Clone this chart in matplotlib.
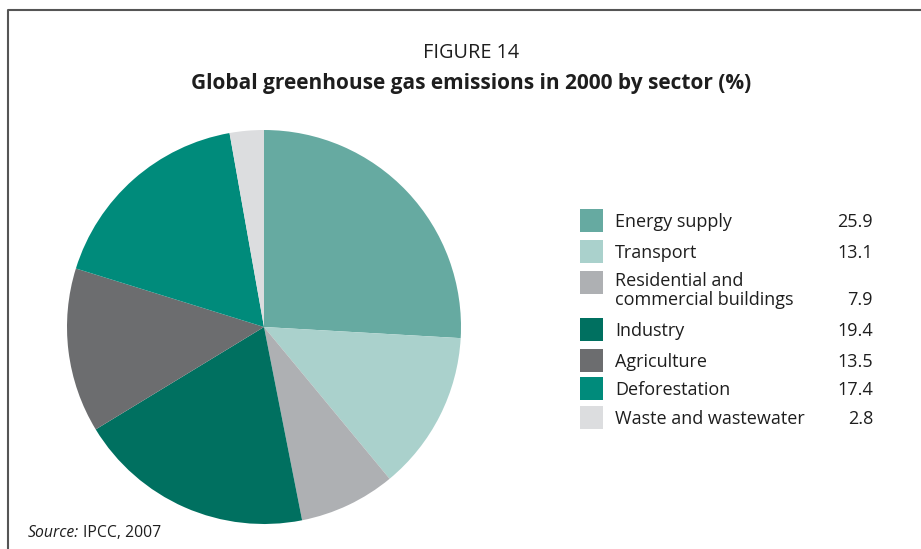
import matplotlib
matplotlib.use('Agg')
import matplotlib.pyplot as plt
from matplotlib.patches import Rectangle

plt.rcParams['font.family'] = ['Open Sans', 'DejaVu Sans']

# 数据
sectors = ['Energy supply', 'Transport', 'Residential and\ncommercial buildings',
           'Industry', 'Agriculture', 'Deforestation', 'Waste and wastewater']
shares = [25.9, 13.1, 7.9, 19.4, 13.5, 17.4, 2.8]
colors = ['#66aaa1', '#aad1cc', '#aeb0b3', '#007060', '#6c6d6f', '#008b7b', '#dcdddf']

W, H = 921, 549
fig = plt.figure(figsize=(W / 100, H / 100), dpi=100)
ax = fig.add_axes([0, 0, 1, 1])

# 饼图，从12点钟方向顺时针
ax.pie(shares, colors=colors, startangle=90, counterclock=False,
       center=(264, H - 327), radius=197, wedgeprops=dict(linewidth=0))
ax.set_xlim(0, W)
ax.set_ylim(0, H)
ax.set_aspect('equal')
ax.axis('off')

# 外框
ax.plot([8, 8, W + 5], [-5, H - 10, H - 10], color='#555555', lw=1.5,
        solid_capstyle='projecting', clip_on=False)

ax.text(471, H - 53, 'FIGURE 14', ha='center', va='center', fontsize=14.3, color='#1e1e1e')
ax.text(471, H - 84, 'Global greenhouse gas emissions in 2000 by sector (%)',
        ha='center', va='center', fontsize=15, fontweight='bold', color='#1e1e1e')

# 图例
fs = 13
box_tops = [209, 240, 271, 318, 349, 377, 406]
for name, val, c, top in zip(sectors, shares, colors, box_tops):
    ax.add_patch(Rectangle((580, H - top - 23), 23, 23, color=c, lw=0))
    if '\n' in name:
        first, second = name.split('\n')
        ax.text(615, H - (top + 10), first, ha='left', va='center', fontsize=fs, color='#1e1e1e')
        ax.text(615, H - (top + 29), second, ha='left', va='center', fontsize=fs, color='#1e1e1e')
        ax.text(873, H - (top + 29), f'{val:.1f}', ha='right', va='center', fontsize=fs, color='#1e1e1e')
    else:
        ax.text(615, H - (top + 13), name, ha='left', va='center', fontsize=fs, color='#1e1e1e')
        ax.text(873, H - (top + 13), f'{val:.1f}', ha='right', va='center', fontsize=fs, color='#1e1e1e')

src = ax.text(28, H - 533, 'Source:', ha='left', va='center', fontsize=11.3,
              style='italic', color='#1e1e1e')
fig.canvas.draw()
bb = src.get_window_extent()
ax.text(bb.x1 + 4, H - 533, 'IPCC, 2007', ha='left', va='center', fontsize=11.3, color='#1e1e1e')

fig.savefig('out.png', dpi=100)
